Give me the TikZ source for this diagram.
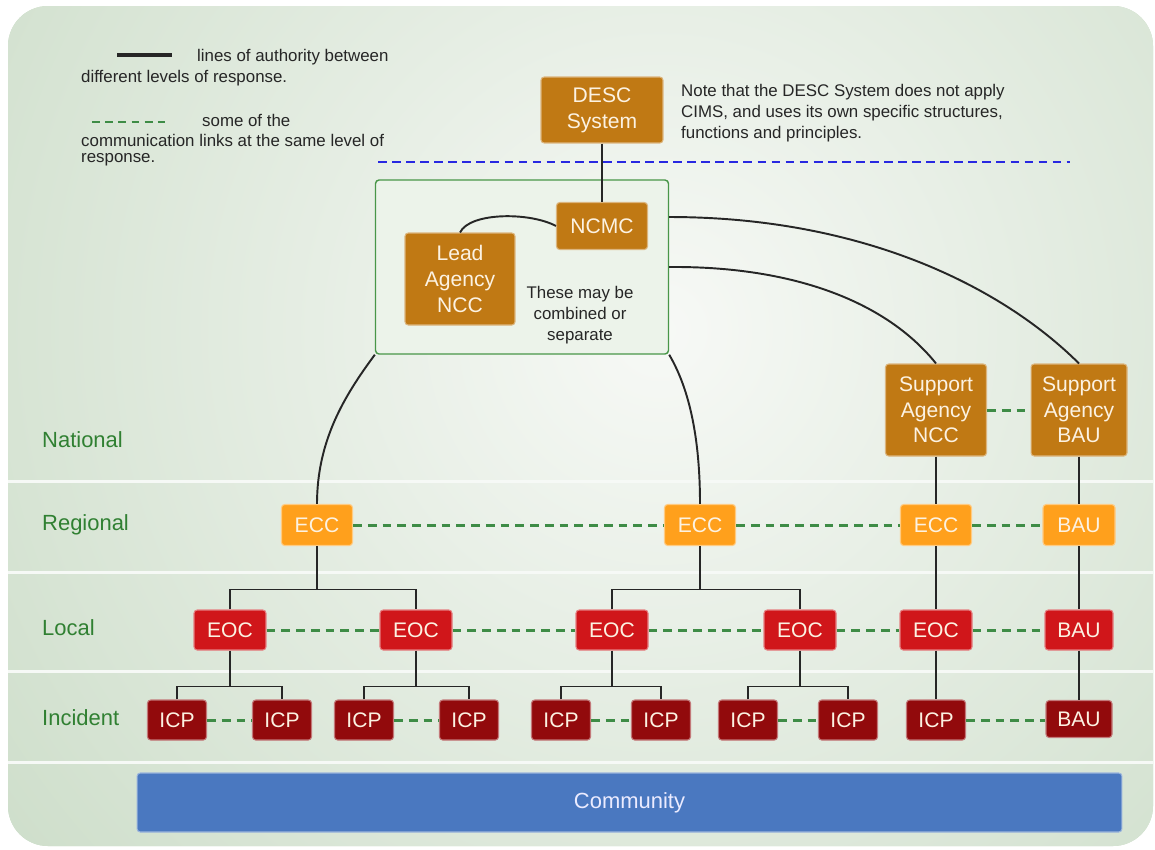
\documentclass[tikz,border=0pt]{standalone}
\usepackage{fontspec}
\setmainfont{Liberation Sans}
\usetikzlibrary{calc}
\definecolor{natbrown}{RGB}{192,121,20}
\definecolor{regorange}{RGB}{255,160,28}
\definecolor{locred}{RGB}{208,22,26}
\definecolor{incred}{RGB}{146,10,12}
\definecolor{commgreen}{RGB}{62,140,70}
\definecolor{lvlgreen}{RGB}{48,128,50}
\definecolor{bgouter}{RGB}{198,217,194}
\definecolor{bginner}{RGB}{247,249,246}
\definecolor{grpfill}{RGB}{236,243,234}
\definecolor{grpline}{RGB}{72,150,72}
\definecolor{dashblue}{RGB}{40,40,225}
\definecolor{commblue}{RGB}{74,120,192}
\definecolor{boxtext}{RGB}{252,242,226}
\tikzset{
  box/.style      = {rounded corners=1.8pt, fill=#1, draw=#1!55!white, line width=0.6pt,
                     text=boxtext, align=center, inner sep=1pt,
                     font=\fontsize{12}{14.6}\selectfont},
  natbox/.style   = {box=natbrown},
  regbox/.style   = {box=regorange, minimum width=1.42cm, minimum height=0.82cm},
  locbox/.style   = {box=locred, minimum width=1.44cm, minimum height=0.8cm},
  incbox/.style   = {box=incred, minimum width=1.18cm, minimum height=0.8cm},
  groupbox/.style = {draw=grpline, fill=grpfill, line width=0.8pt, rounded corners=2pt,
                     minimum width=5.86cm, minimum height=3.48cm},
  auth/.style     = {draw=black!85, line width=1.1pt},
  comm/.style     = {draw=commgreen, line width=1.7pt, dash pattern=on 5pt off 3.4pt},
  lvl/.style      = {text=lvlgreen, font=\fontsize{12.5}{15}\selectfont, anchor=west},
  note/.style     = {font=\fontsize{9.6}{12}\selectfont, align=left, text=black!85},
  band/.style     = {draw=white!85!bgouter, line width=1.7pt},
}

\begin{document}
\begin{tikzpicture}[x=0.02cm, y=-0.02cm]
  \useasboundingbox (0,0) rectangle (1155,849);
  % background panel and level bands
  \begin{scope}
    \clip[rounded corners=0.8cm] (8,6) rectangle (1153,846);
    \fill[bgouter] (0,0) rectangle (1155,849);
    \shade[inner color=bginner, outer color=bgouter] (660,330) circle (20cm);
    \foreach \y in {481,572,671,762}
      \draw[band] (0,\y) -- (1155,\y);
  \end{scope}

  \node[lvl] (lnat) at (36,440) {National};
  \node[lvl] (lreg) at (36,525) {Regional};
  \node[lvl] (lloc) at (36,628) {Local};
  \node[lvl] (linc) at (36,718) {Incident};

  % legend
  \coordinate (la1) at (117,55);
  \coordinate (la2) at (172,55);
  \draw[black!85, line width=1.9pt] (la1) -- (la2);
  \node[note, anchor=west] (leg1) at (191,57) {lines of authority between};
  \node[note, anchor=west] (leg2) at (75,78) {different levels of response.};
  \coordinate (lb1) at (92,122);
  \coordinate (lb2) at (165,122);
  \draw[comm, line width=1.4pt, dash pattern=on 4.5pt off 3pt] (lb1) -- (lb2);
  \node[note, anchor=west] (leg3) at (196,120) {some of the};
  \node[note, anchor=west] (leg4) at (75,140) {communication links at the same level of};
  \node[note, anchor=west] (leg5) at (75,160) {response.};

  \coordinate (bl1) at (378,162);
  \coordinate (bl2) at (1070,162);
  \draw[dashblue, line width=1.6pt, dash pattern=on 5pt off 3pt] (bl1) -- (bl2);

  % national level
  \node[natbox, minimum width=2.44cm, minimum height=1.32cm] (desc) at (602,110) {DESC\\System};
  \node[note, anchor=west] (descnote) at (675,113)
    {Note that the DESC System does not apply\\CIMS, and uses its own specific structures,\\functions and principles.};
  \node[groupbox] (grp) at (522,267) {};
  \node[natbox, minimum width=1.82cm, minimum height=0.94cm] (ncmc) at (602,226) {NCMC};
  \node[natbox, minimum width=2.2cm, minimum height=1.84cm] (lead) at (460,279) {Lead\\Agency\\NCC};
  \node[note, align=center] (comb) at (580,315) {These may be\\combined or\\separate};
  \node[natbox, minimum width=2.02cm, minimum height=1.84cm] (sancc) at (936,410) {Support\\Agency\\NCC};
  \node[natbox, minimum width=1.92cm, minimum height=1.84cm] (sabau) at (1079,410) {Support\\Agency\\BAU};

  % regional, local, incident
  \node[regbox] (ecc1) at (317,525) {ECC};
  \node[regbox] (ecc2) at (700,525) {ECC};
  \node[regbox] (ecc3) at (936,525) {ECC};
  \node[regbox, minimum width=1.44cm] (rbau) at (1079,525) {BAU};

  \foreach \n/\x in {1/230,2/416,3/612,4/800,5/936}
    \node[locbox] (eoc\n) at (\x,630) {EOC};
  \node[locbox, minimum width=1.36cm] (lbau) at (1079,630) {BAU};

  \foreach \n/\x in {1/177,2/282,3/364,4/469,5/561,6/661,7/748,8/848,9/936}
    \node[incbox] (icp\n) at (\x,720) {ICP};
  \node[incbox, minimum width=1.32cm, minimum height=0.74cm] (ibau) at (1079,719) {BAU};

  \node[box=commblue, text=blue!8!white, minimum width=19.7cm, minimum height=1.18cm,
        font=\fontsize{12.5}{15}\selectfont] (community) at (629.5,802.5) {Community};

  % lines of authority
  \draw[auth] (desc) -- (ncmc);
  \draw[auth] (lead.north) .. controls (470,212) and (530,212) .. (ncmc.west);
  \draw[auth] (grp.south west) .. controls (345,395) and (317,440) .. (ecc1.north);
  \draw[auth] (grp.south east) .. controls (690,390) and (700,440) .. (ecc2.north);
  \draw[auth] ([yshift=1cm]grp.east) .. controls (860,217) and (1000,285) .. (sabau.north);
  \draw[auth] (grp.east) .. controls (790,266) and (885,300) .. (sancc.north);

  \draw[auth] (eoc1.north) -- ++(0,-20) coordinate (b1) -| (eoc2.north);
  \draw[auth] (ecc1.south) -- (ecc1 |- b1);
  \draw[auth] (eoc3.north) -- ++(0,-20) coordinate (b2) -| (eoc4.north);
  \draw[auth] (ecc2.south) -- (ecc2 |- b2);
  \foreach \p/\a/\b in {eoc1/icp1/icp2, eoc2/icp3/icp4, eoc3/icp5/icp6, eoc4/icp7/icp8} {
    \draw[auth] (\a.north) -- ++(0,-13) coordinate (bj) -| (\b.north);
    \draw[auth] (\p.south) -- (\p |- bj);
  }
  \foreach \a/\b in {sancc/ecc3, ecc3/eoc5, eoc5/icp9, sabau/rbau, rbau/lbau, lbau/ibau}
    \draw[auth] (\a) -- (\b);

  % communication links
  \foreach \a/\b in {sancc/sabau, ecc1/ecc2, ecc2/ecc3, ecc3/rbau,
                     eoc1/eoc2, eoc2/eoc3, eoc3/eoc4, eoc4/eoc5, eoc5/lbau,
                     icp1/icp2, icp3/icp4, icp5/icp6, icp7/icp8}
    \draw[comm] (\a) -- (\b);
  \draw[comm] (icp9.east) -- (ibau.west |- icp9);
\end{tikzpicture}
\end{document}
